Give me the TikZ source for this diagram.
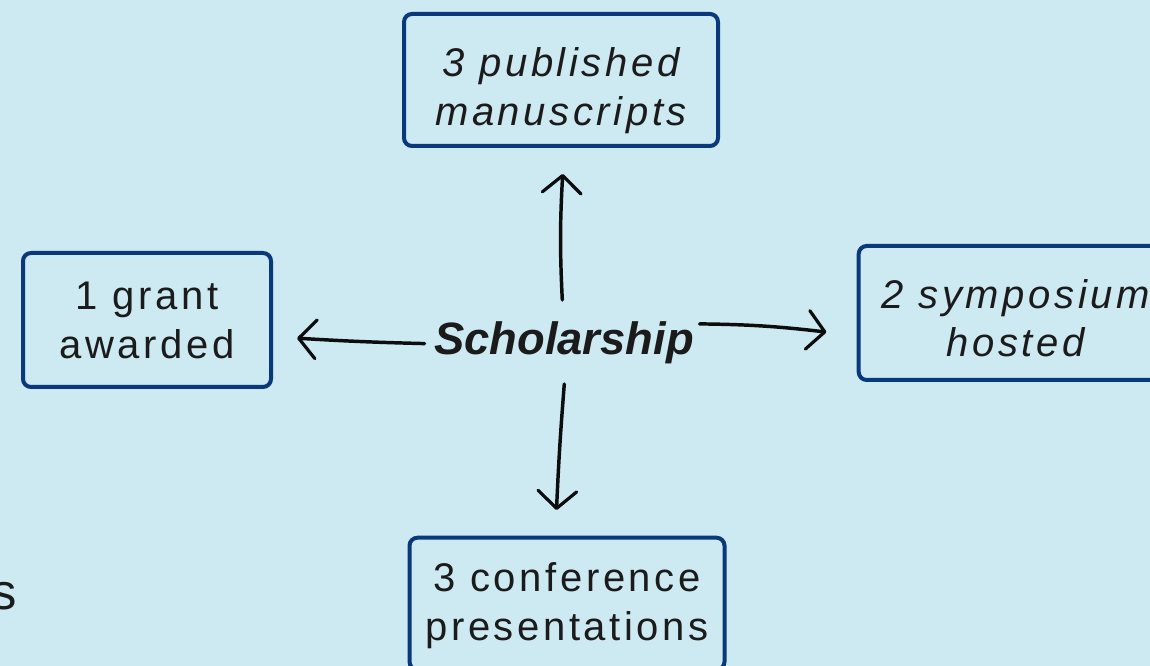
\documentclass[tikz,border=0pt]{standalone}
\usepackage{fontspec}
\setmainfont{Liberation Sans}
\newfontfamily\boxfont[LetterSpace=9]{Liberation Sans}
\usetikzlibrary{arrows.meta}
\definecolor{bgc}{RGB}{205,233,242}
\definecolor{navy}{RGB}{10,57,123}
\definecolor{ink}{RGB}{27,27,27}
\begin{document}
\begin{tikzpicture}[x=0.75pt,y=0.75pt,
  box/.style={draw=navy, line width=3pt, rounded corners=6pt, outer sep=0pt,
    inner sep=0pt, text=ink, font=\boxfont\fontsize{30pt}{36.5pt}\selectfont,
    text height=0pt},
  arr/.style={draw=black!95, line width=2.6pt, line cap=round,
    -{Straight Barb[length=13pt,width=29pt,line width=2.4pt,round]}},
  plain/.style={inner sep=0pt, text=ink}
]
\fill[bgc] (0,0) rectangle (1150,666);
\useasboundingbox (0,0) rectangle (1150,666);

\node[box, minimum width=235.5pt, minimum height=99pt, text depth=5pt] (pub) at (561,586)
  {\itshape\begin{tabular}[t]{@{}c@{}}3 published\\manuscripts\end{tabular}};
\node[box, minimum width=186pt, minimum height=100.5pt, text depth=15pt] (grant) at (147,346)
  {\begin{tabular}[t]{@{}c@{}}1 grant\\awarded\end{tabular}};
\node[box, minimum width=235.5pt, minimum height=100.5pt, text depth=7pt] (symp) at (1015.7,353)
  {\itshape\begin{tabular}[t]{@{}c@{}}2 symposium\\hosted\end{tabular}};
\node[box, minimum width=236.25pt, minimum height=99pt, text depth=18pt] (conf) at (567,62.3)
  {\begin{tabular}[t]{@{}c@{}}3 conference\\presentations\end{tabular}};

\node[plain, anchor=base, font=\fontsize{34pt}{40pt}\selectfont\bfseries\itshape] (sch) at (564,311) {Scholarship};
\node[plain, anchor=base east, font=\fontsize{38pt}{44pt}\selectfont] (frag) at (17.5,56) {s};

\draw[arr] ([shift={(-1.7,55)}]sch.base) to[bend left=3] ([shift={(1.7,-28)}]pub.south);
\draw[arr] ([shift={(0.3,-29)}]sch.base) to[bend right=1] ([shift={(-10.5,27.7)}]conf.north);
\draw[arr] ([shift={(-139.4,11.4)}]sch.base) to[bend left=1] ([shift={(26.1,-18.2)}]grant.east);
\draw[arr] ([shift={(135.6,31.1)}]sch.base) to[bend left=3] ([shift={(-32.3,-19.1)}]symp.west);
\end{tikzpicture}
\end{document}
